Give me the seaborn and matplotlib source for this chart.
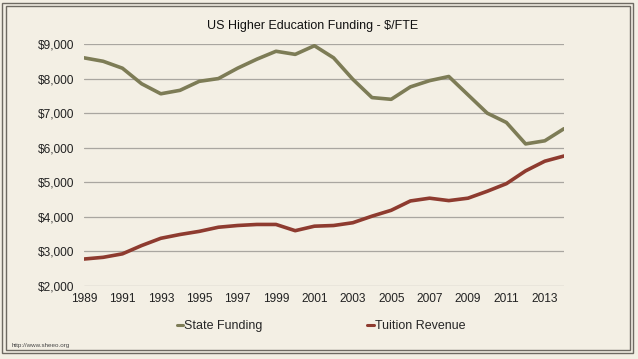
import matplotlib
matplotlib.use("Agg")
import matplotlib.pyplot as plt
import seaborn as sns
import pandas as pd
from matplotlib.patches import Rectangle
from matplotlib.ticker import FuncFormatter
from matplotlib.lines import Line2D

years = list(range(1989, 2015))
state_funding = [8600, 8500, 8300, 7850, 7560, 7660, 7920, 8000, 8300, 8560,
                 8790, 8700, 8950, 8600, 7980, 7450, 7400, 7760, 7940, 8060,
                 7530, 7000, 6730, 6110, 6200, 6550]
tuition_revenue = [2780, 2830, 2930, 3170, 3380, 3490, 3580, 3700, 3750, 3780,
                   3780, 3600, 3730, 3750, 3830, 4020, 4190, 4460, 4540, 4470,
                   4540, 4740, 4960, 5330, 5610, 5760]
series_names = ["State Funding", "Tuition Revenue"]
title = "US Higher Education Funding - $/FTE"
source = "http://www.sheeo.org"

df = pd.DataFrame({
    "Year": years * 2,
    "Value": state_funding + tuition_revenue,
    "Series": [series_names[0]] * len(years) + [series_names[1]] * len(years),
})

sns.set_theme(style="white")
plt.rcParams["font.family"] = ["Liberation Sans", "DejaVu Sans"]

bg = "#f3efe4"
colors = {"State Funding": "#7d7c56", "Tuition Revenue": "#8e3b2f"}

fig = plt.figure(figsize=(6.38, 3.59), dpi=100, facecolor=bg)
ax = fig.add_axes([84 / 638, 1 - 286 / 359, (564 - 84) / 638, (286 - 44) / 359])
ax.set_facecolor(bg)

sns.lineplot(data=df, x="Year", y="Value", hue="Series", palette=colors,
             linewidth=2.6, ax=ax, legend=False)

ax.set_xlim(1989, 2014)
ax.set_ylim(2000, 9000)
ax.set_xticks(list(range(1989, 2014, 2)))
ax.set_yticks(list(range(2000, 9001, 1000)))
ax.yaxis.set_major_formatter(FuncFormatter(lambda v, p: f"${v:,.0f}"))
ax.grid(axis="y", color="#a9a6a0", linewidth=0.9)
ax.set_axisbelow(True)
for s in ax.spines.values():
    s.set_visible(False)
ax.tick_params(axis="both", length=0, labelsize=8.6, colors="#222222")
ax.tick_params(axis="y", pad=7)
ax.tick_params(axis="x", pad=5)
ax.set_xlabel("")
ax.set_ylabel("")

fig.text(313 / 638, 1 - 26 / 359, title, ha="center", va="center",
         fontsize=9, color="#111111")

handles = [Line2D([], [], color=colors[n], linewidth=2.2) for n in series_names]
fig.legend(handles, series_names, loc="center", ncol=2,
           bbox_to_anchor=(321 / 638, 1 - 326 / 359), frameon=False,
           fontsize=9, handlelength=0.5, handletextpad=0.1,
           columnspacing=8.4)

fig.text(12 / 638, 1 - 346 / 359, source, ha="left", va="center",
         fontsize=4.5, color="#444444")

# double frame
fig.patches.append(Rectangle((2.5 / 638, 1 - 353 / 359), 630.5 / 638, 350.5 / 359,
                             transform=fig.transFigure, fill=False,
                             edgecolor="#6e6a62", linewidth=1.0))
fig.patches.append(Rectangle((5.5 / 638, 1 - 350 / 359), 624.5 / 638, 344 / 359,
                             transform=fig.transFigure, fill=False,
                             edgecolor="#6e6a62", linewidth=1.0))

fig.savefig("out.png", dpi=100, facecolor=bg)
